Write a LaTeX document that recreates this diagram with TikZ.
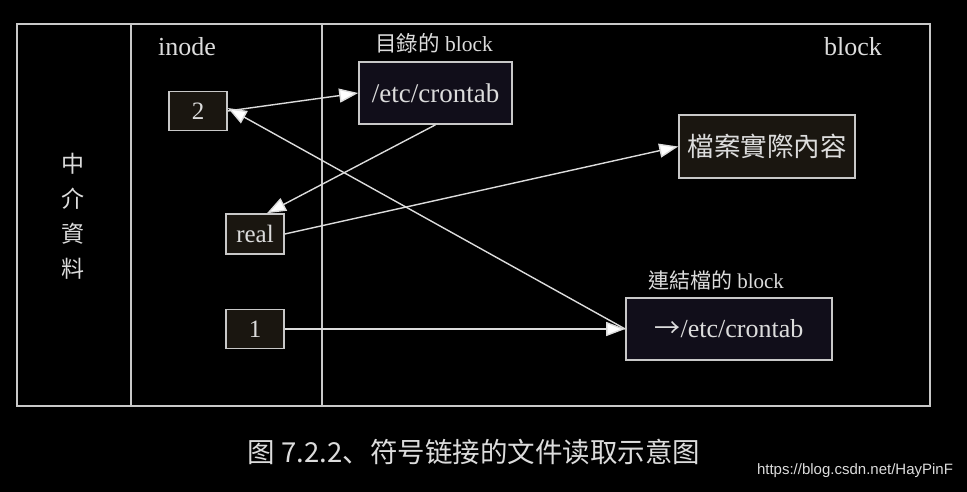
\documentclass[tikz,border=0pt]{standalone}
\usepackage{fontspec}
\setmainfont{Liberation Serif}
\newfontfamily\cjk{Noto Sans CJK TC}
\newfontfamily\cjksc{Noto Sans CJK SC}
\newfontfamily\wm{Liberation Sans}
\usetikzlibrary{arrows.meta}
\definecolor{fg}{HTML}{DCDCDC}
\definecolor{frame}{HTML}{C8C8C8}
\definecolor{brownbox}{HTML}{1A1610}
\definecolor{navybox}{HTML}{110E1A}
\tikzset{
  inobox/.style={draw=frame, line width=1.6pt, fill=brownbox, text=fg, inner sep=0pt, font=\fontsize{25}{25}\selectfont},
  blkbox/.style={draw=frame, line width=1.6pt, fill=navybox, text=fg, inner sep=0pt, font=\fontsize{27}{27}\selectfont},
  lbl/.style={text=fg, inner sep=0pt},
  conn/.style={draw=fg, line width=1.4pt, -{Triangle[length=19pt,width=14pt,fill=white]}}
}
\begin{document}
\begin{tikzpicture}[x=1pt,y=-1pt]
\fill[black] (0,0) rectangle (967,492);
\useasboundingbox (0,0) rectangle (967,492);
\draw[frame, line width=1.6pt] (17,24) rectangle (930,406);
\draw[frame, line width=1.6pt] (131,24) -- (131,406);
\draw[frame, line width=1.6pt] (322,24) -- (322,406);
\node[lbl, font=\fontsize{26}{26}\selectfont] (linode) at (187,47) {inode};
\node[lbl, font=\fontsize{26}{26}\selectfont] (lblock) at (853,47) {block};
\node[lbl, font=\fontsize{21.5}{21.5}\selectfont] (ldir) at (434,43) {{\cjk 目錄的} block};
\node[lbl, font=\fontsize{21}{21}\selectfont] (llink) at (716,280) {{\cjk 連結檔的} block};
\node[lbl, font=\cjk\fontsize{23}{35}\selectfont, align=center] (lmeta) at (73,216) {中\\介\\資\\料};
\node[inobox, minimum width=58pt, minimum height=39pt] (n2) at (198,111) {2};
\node[inobox, minimum width=58pt, minimum height=40pt] (nreal) at (255,234) {real};
\node[inobox, minimum width=58pt, minimum height=39pt] (n1) at (255,329) {1};
\node[blkbox, minimum width=153pt, minimum height=62pt] (dir) at (435.5,93) {/etc/crontab};
\node[inobox, minimum width=176pt, minimum height=63pt, font=\cjk\fontsize{26.5}{26.5}\selectfont] (data) at (767,146.5) {檔案實際內容};
\node[blkbox, minimum width=206pt, minimum height=62pt, font=\fontsize{26}{26}\selectfont] (link) at (729,329) {{\cjk →}/etc/crontab};
\draw[conn] (n2.east) -- (dir.west);
\draw[conn] (dir.south) -- ([xshift=12pt]nreal.north);
\draw[conn] (nreal.east) -- (data.west);
\draw[conn] (n1.east) -- (link.west);
\draw[conn] (link.west) -- ([yshift=3pt]n2.east);
\node[lbl, font=\cjksc\fontsize{27.5}{27.5}\selectfont] (cap) at (474,452) {图 7.2.2、符号链接的文件读取示意图};
\node[lbl, font=\wm\fontsize{15}{15}\selectfont, text=fg] (wmk) at (855,471) {https://blog.csdn.net/HayPinF};
\end{tikzpicture}
\end{document}
